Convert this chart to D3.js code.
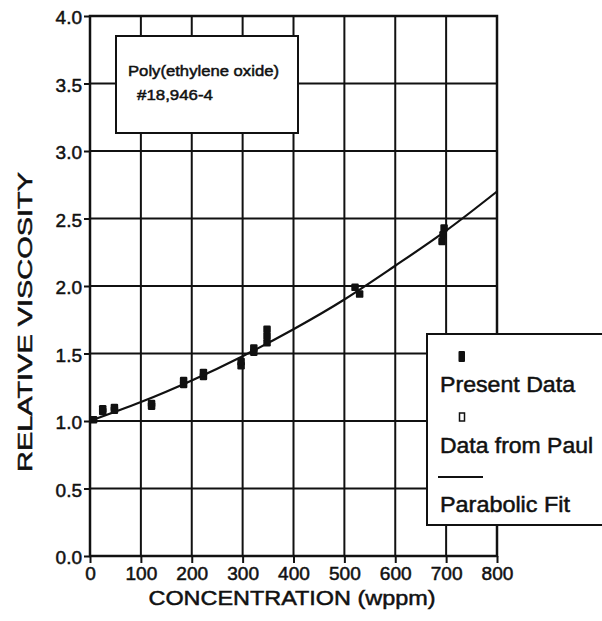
<!DOCTYPE html>
<html>
<head>
<meta charset="utf-8">
<script src="https://cdn.jsdelivr.net/npm/d3@7"></script>
<style>
  body { margin: 0; background: #fff; }
  text { font-family: "Liberation Sans", Arial, sans-serif; fill: #111; stroke: #111; stroke-width: 0.5px; }
</style>
</head>
<body>
<div class="canvas"></div>
<script>
// data
const concTicks = [0, 100, 200, 300, 400, 500, 600, 700, 800];
const viscTicks = [0.0, 0.5, 1.0, 1.5, 2.0, 2.5, 3.0, 3.5, 4.0];

// present data (wppm, relative viscosity)
const presentConc = [7, 25, 25, 48, 48, 121, 121, 184, 184, 223, 223, 297, 297, 322, 322, 348, 348, 348, 521, 530, 692, 694, 696];
const presentVisc = [1.01, 1.07, 1.09, 1.08, 1.10, 1.11, 1.13, 1.27, 1.30, 1.33, 1.36, 1.41, 1.44, 1.51, 1.54, 1.58, 1.63, 1.68, 1.99, 1.94, 2.33, 2.38, 2.43];

// parabolic fit, read at grid lines
const fitConc = [0, 100, 200, 300, 400, 500, 600, 700, 800];
const fitVisc = [1.00, 1.14, 1.30, 1.48, 1.68, 1.90, 2.15, 2.41, 2.70];

const landScape = { width: 602, height: 621 };
const margin = { top: 16, left: 90 };
const graphWidth = 407;
const graphHeight = 540;

const svg = d3.select(".canvas")
  .append("svg")
  .attr("width", landScape.width)
  .attr("height", landScape.height);

const graph = svg.append("g")
  .attr("transform", `translate(${margin.left}, ${margin.top})`);

//scales
const xScale = d3.scaleLinear().domain([0, 800]).range([0, graphWidth]);
const yScale = d3.scaleLinear().domain([0, 4]).range([graphHeight, 0]);

//grid
graph.append("g").selectAll("line")
  .data(concTicks)
  .enter().append("line")
  .attr("x1", d => xScale(d)).attr("x2", d => xScale(d))
  .attr("y1", 0).attr("y2", graphHeight)
  .attr("stroke", "#111").attr("stroke-width", 2);
graph.append("g").selectAll("line")
  .data(viscTicks)
  .enter().append("line")
  .attr("x1", 0).attr("x2", graphWidth)
  .attr("y1", d => yScale(d)).attr("y2", d => yScale(d))
  .attr("stroke", "#111").attr("stroke-width", 2);

//axes
const xAxisGroup = graph.append("g").attr("transform", `translate(0, ${graphHeight})`);
const yAxisGroup = graph.append("g");
const xAxis = d3.axisBottom(xScale).tickValues(concTicks).tickSize(7).tickPadding(4).tickFormat(d3.format("d"));
const yAxis = d3.axisLeft(yScale).tickValues(viscTicks).tickSize(6).tickPadding(2).tickFormat(d3.format(".1f"));
xAxisGroup.call(xAxis);
yAxisGroup.call(yAxis);
svg.selectAll(".domain").remove();
svg.selectAll(".tick line").attr("stroke", "#111").attr("stroke-width", 2);
xAxisGroup.selectAll("text").attr("font-size", 18).attr("fill", "#111").attr("font-family", "Liberation Sans, Arial")
  .attr("textLength", d => String(d).length * 10.6).attr("lengthAdjust", "spacingAndGlyphs");
yAxisGroup.selectAll("text").attr("font-size", 19).attr("fill", "#111").attr("font-family", "Liberation Sans, Arial")
  .attr("dy", "0.42em");

//frame
graph.append("rect")
  .attr("width", graphWidth).attr("height", graphHeight)
  .attr("fill", "none").attr("stroke", "#111").attr("stroke-width", 2.5);

//fit line
const fitLine = d3.line()
  .x((d, i) => xScale(fitConc[i]))
  .y(d => yScale(d))
  .curve(d3.curveNatural);
graph.append("path")
  .attr("d", fitLine(fitVisc))
  .attr("fill", "none").attr("stroke", "#111").attr("stroke-width", 2.2);

//points
graph.append("g").selectAll("rect")
  .data(presentVisc)
  .enter().append("rect")
  .attr("x", (d, i) => xScale(presentConc[i]) - 3.75)
  .attr("y", d => yScale(d) - 3.75)
  .attr("width", 7.5).attr("height", 7.5)
  .attr("rx", 1.2)
  .attr("fill", "#111");

//label box
svg.append("rect")
  .attr("x", 116).attr("y", 36).attr("width", 182).attr("height", 97)
  .attr("fill", "#fff").attr("stroke", "#111").attr("stroke-width", 2);
svg.append("text").attr("x", 128).attr("y", 76)
  .attr("font-size", 15.5).attr("textLength", 151).attr("lengthAdjust", "spacingAndGlyphs")
  .text("Poly(ethylene oxide)");
svg.append("text").attr("x", 137).attr("y", 100)
  .attr("font-size", 15.5).attr("textLength", 76).attr("lengthAdjust", "spacingAndGlyphs")
  .text("#18,946-4");

//legend
const legend = svg.append("g");
legend.append("rect")
  .attr("x", 427).attr("y", 334).attr("width", 180).attr("height", 191)
  .attr("fill", "#fff").attr("stroke", "#111").attr("stroke-width", 2);
legend.append("rect").attr("x", 458.5).attr("y", 351).attr("width", 6.5).attr("height", 11).attr("rx", 1).attr("fill", "#111");
legend.append("text").attr("x", 440).attr("y", 392).attr("font-size", 22)
  .attr("textLength", 135).attr("lengthAdjust", "spacingAndGlyphs").text("Present Data");
legend.append("rect").attr("x", 459.5).attr("y", 413).attr("width", 5).attr("height", 8)
  .attr("fill", "#fff").attr("stroke", "#111").attr("stroke-width", 1.5);
legend.append("text").attr("x", 440).attr("y", 453).attr("font-size", 22)
  .attr("textLength", 153).attr("lengthAdjust", "spacingAndGlyphs").text("Data from Paul");
legend.append("line").attr("x1", 438).attr("x2", 483).attr("y1", 477).attr("y2", 477)
  .attr("stroke", "#111").attr("stroke-width", 2.2);
legend.append("text").attr("x", 440).attr("y", 512).attr("font-size", 22)
  .attr("textLength", 130).attr("lengthAdjust", "spacingAndGlyphs").text("Parabolic Fit");

//axis titles
svg.append("text")
  .attr("x", 292).attr("y", 605)
  .attr("text-anchor", "middle")
  .attr("font-size", 21)
  .attr("textLength", 287).attr("lengthAdjust", "spacingAndGlyphs")
  .text("CONCENTRATION (wppm)");
svg.append("text")
  .attr("transform", "translate(32, 322) rotate(-90)")
  .attr("text-anchor", "middle")
  .attr("font-size", 21)
  .attr("textLength", 300).attr("lengthAdjust", "spacingAndGlyphs")
  .text("RELATIVE VISCOSITY");
</script>
</body>
</html>
